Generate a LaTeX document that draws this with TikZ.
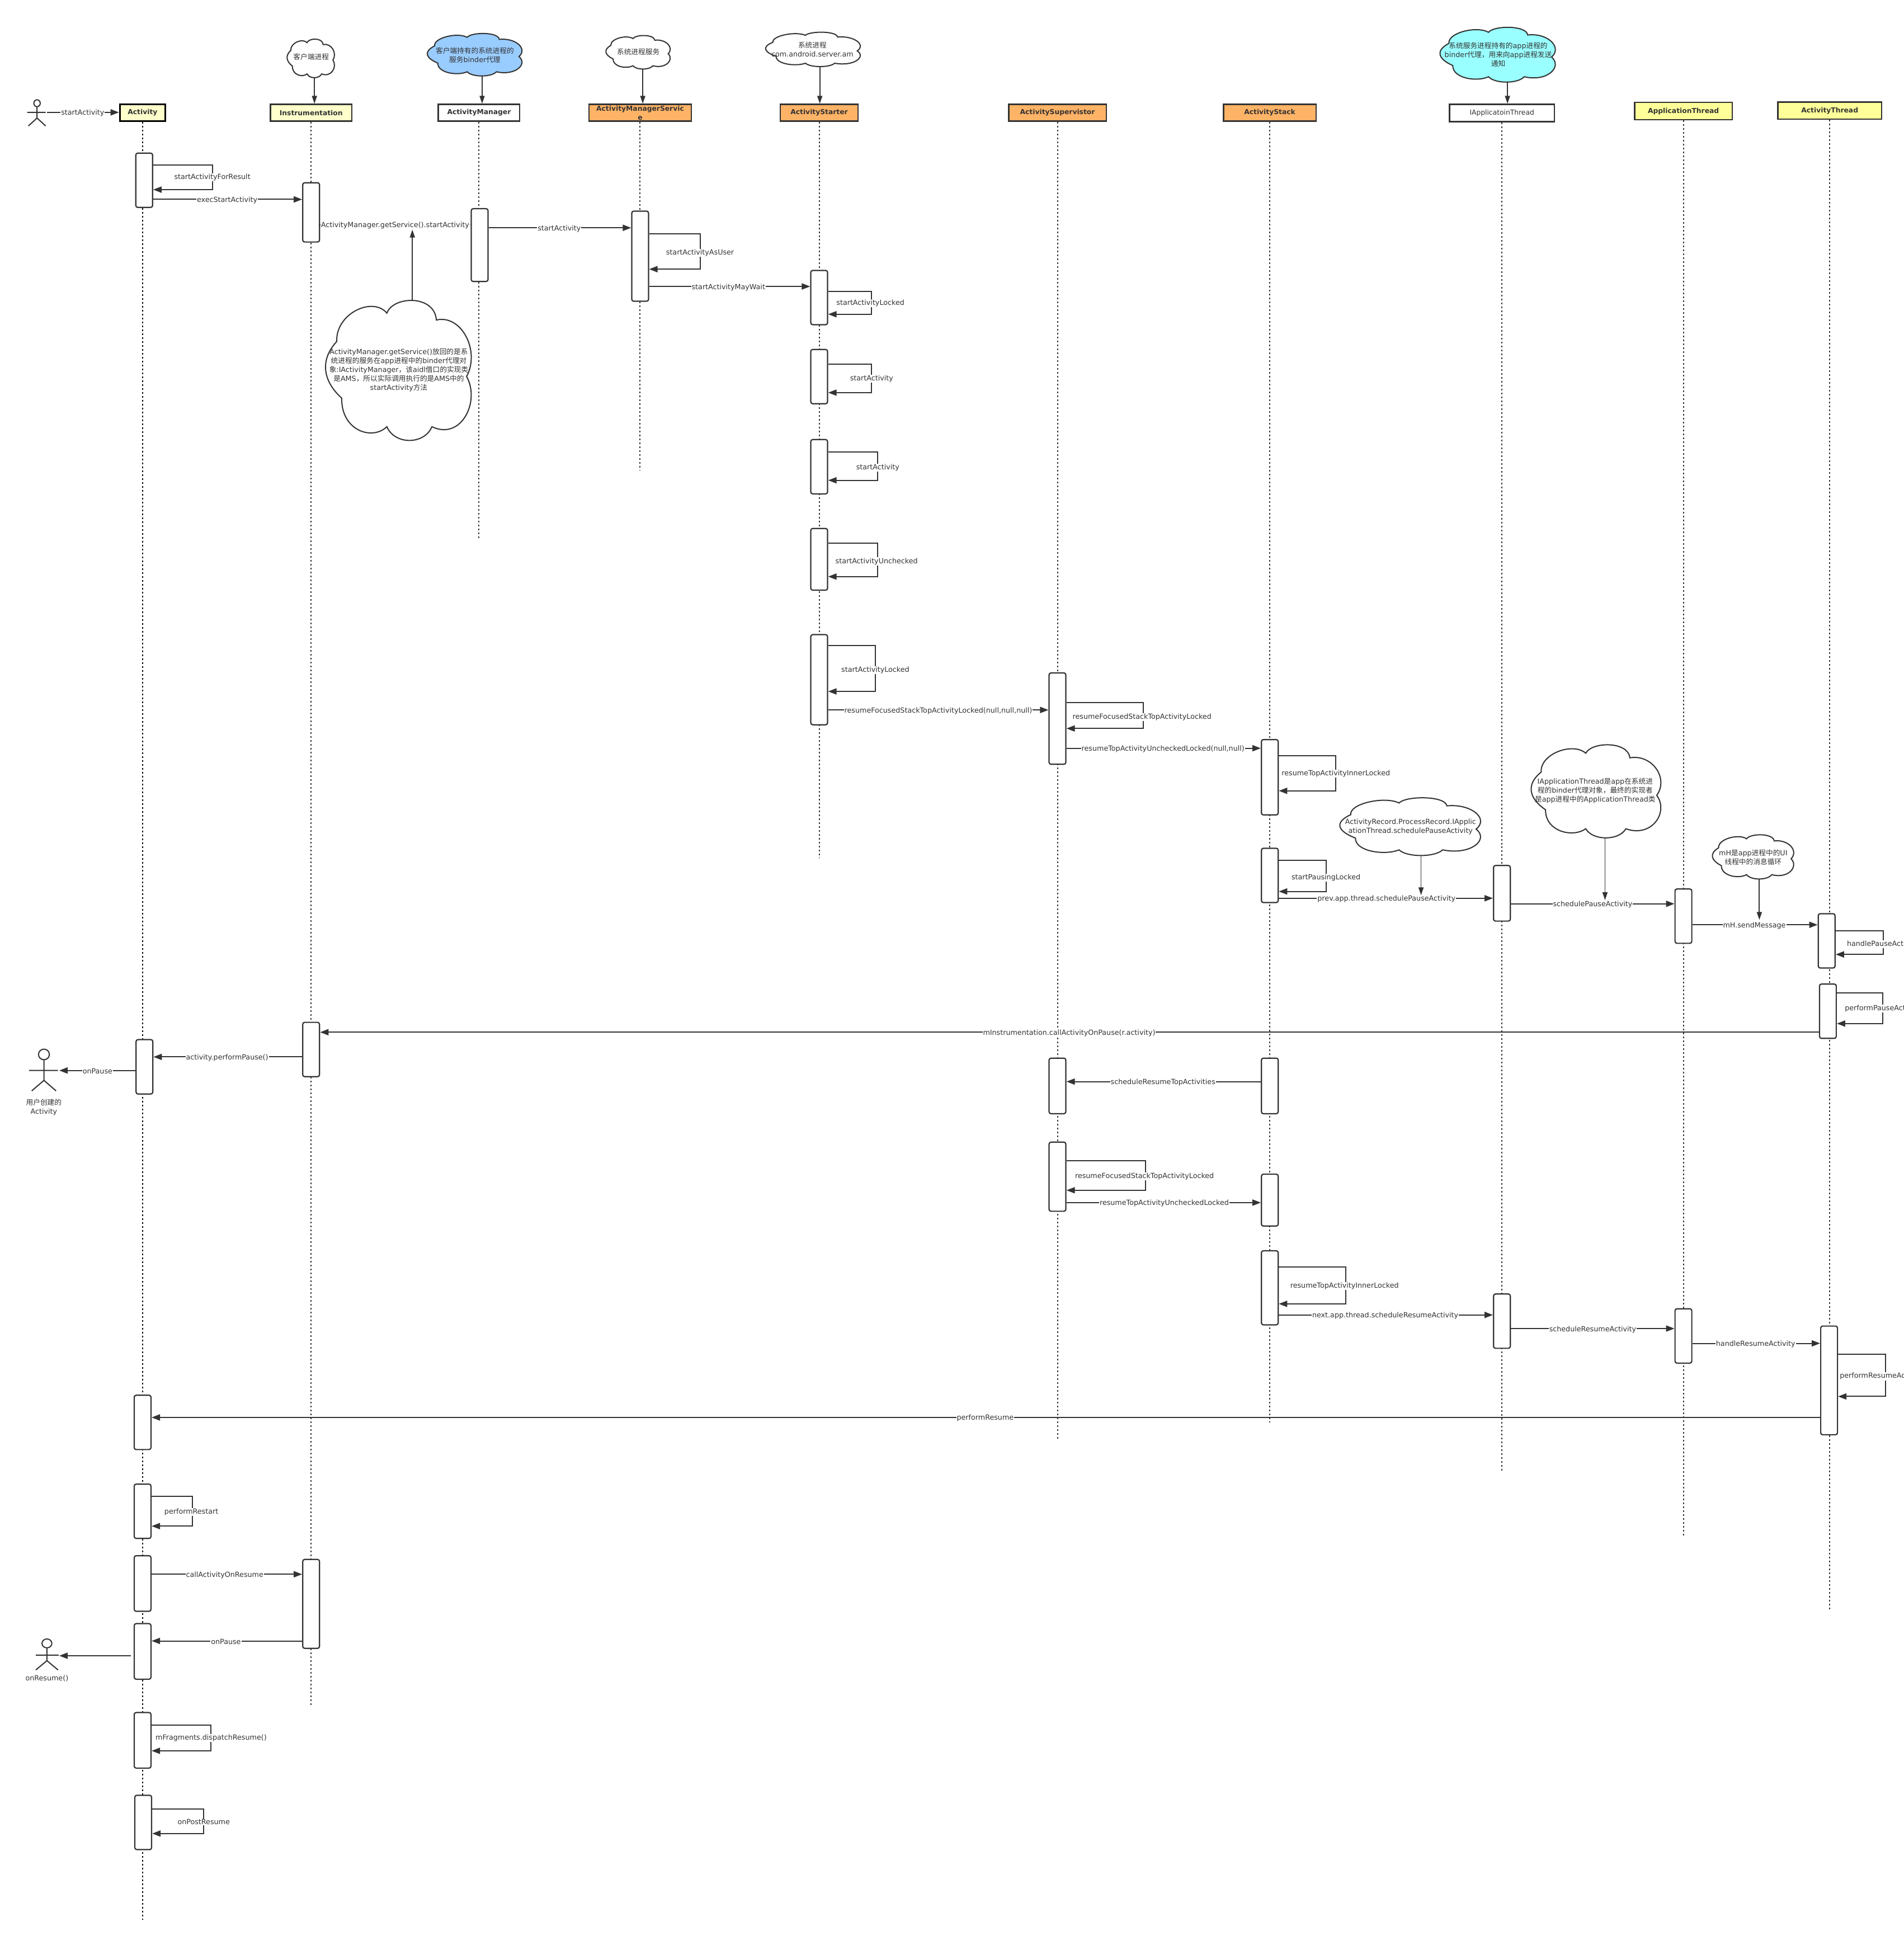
\documentclass[tikz,border=0pt]{standalone}
\usepackage{fontspec}
\setmainfont{DejaVu Sans}
\newfontfamily\cjkfam{Noto Sans CJK SC}
\newcommand{\zh}[1]{{\cjkfam #1}}
\usetikzlibrary{arrows.meta}
\definecolor{ink}{HTML}{333333}
\definecolor{lightyellow}{HTML}{FFFFCC}
\definecolor{midyellow}{HTML}{FFFF99}
\definecolor{orangebox}{HTML}{FFB366}
\definecolor{bluecloud}{HTML}{99CCFF}
\definecolor{cyancloud}{HTML}{99FFFF}
\newcommand{\txtfont}{\fontsize{12.7}{16}\selectfont}
\newcommand{\hdrfont}{\fontsize{12.3}{16}\selectfont}
\tikzset{
  headerbox/.style={draw=ink,line width=2.4pt,inner sep=0pt,text=ink,align=center,font=\hdrfont},
  lifeline/.style={draw=ink,line width=2pt,dash pattern=on 3pt off 4pt},
  actbar/.style={draw=ink,fill=white,line width=2.2pt,rounded corners=3.5pt,inner sep=0pt,minimum width=30pt},
  msgline/.style={draw=ink,line width=2pt,-{Triangle[length=15pt,width=11pt]}},
  notearrow/.style={draw=ink,line width=1.8pt,-{Triangle[length=14pt,width=9pt]}},
  msglabel/.style={fill=white,text=ink,inner sep=1pt,font=\txtfont,align=center,yshift=-1.5pt},
  cloudline/.style={draw=ink,line width=2pt},
  cloudtext/.style={text=ink,inner sep=0pt,font=\txtfont,align=center},
  plainlabel/.style={text=ink,inner sep=0pt,font=\txtfont,align=center},
  actorline/.style={draw=ink,line width=2pt},
}
\newcount\lblcount
\newcommand{\hdr}[8]{% name x0 y0 x1 y1 fill text extra
  \pgfmathsetlengthmacro\wdd{(#4-#2)*2.2075}
  \pgfmathsetlengthmacro\htt{(#5-#3)*2.2075}
  \node[headerbox,fill=#6,minimum width=\wdd,minimum height=\htt,#8] (#1) at ({(#2+#4)/2},{(#3+#5)/2}) {#7};
}
\newcommand{\life}[2]{\draw[lifeline] (#1.south) -- (#1.south |- 0,#2);}
\newcommand{\actbox}[4]{% name cx top bottom
  \pgfmathsetlengthmacro\htt{(#4-#3)*2.2075}
  \node[actbar,minimum height=\htt] (#1) at (#2,{(#3+#4)/2}) {};
}
\newcommand{\lbl}[3]{\global\advance\lblcount by 1
  \node[msglabel] (msg\the\lblcount) at (#1,#2) {#3};}
\newcommand{\msgr}[5]{% from to y labelx label
  \draw[msgline] (#1.east |- 0,#3) -- (#2.west |- 0,#3);
  \lbl{#4}{#3}{#5}}
\newcommand{\msgl}[5]{%
  \draw[msgline] (#1.west |- 0,#3) -- (#2.east |- 0,#3);
  \lbl{#4}{#3}{#5}}
\newcommand{\selfcall}[7]{% bar y1 xr y2 lx ly text
  \draw[msgline] (#1.east |- 0,#2) -- (#3,#2) -- (#3,#4) -- (#1.east |- 0,#4);
  \lbl{#5}{#6}{#7}}
\newcommand{\cloudat}[6]{% name x0 y0 x1 y1 fill
  \pgfmathsetlengthmacro\wdd{(#4-#2)*2.2075}
  \pgfmathsetlengthmacro\htt{(#5-#3)*2.2075}
  \begin{scope}[shift={(#2,#3)},x=\wdd,y=-\htt]
    \draw[cloudline,fill=#6] (.09,.294)
      .. controls (.08,.10) and (.33,-.03) .. (.428,.093)
      .. controls (.47,-.03) and (.75,-.04) .. (.762,.142)
      .. controls (.93,.10) and (1.06,.36) .. (.966,.543)
      .. controls (1.06,.72) and (.93,1.0) .. (.732,.90)
      .. controls (.68,1.03) and (.48,1.03) .. (.428,.90)
      .. controls (.33,1.0) and (.12,.93) .. (.123,.697)
      .. controls (.0,.58) and (-.03,.43) .. (.09,.294) -- cycle;
  \end{scope}
  \node[inner sep=0pt,minimum width=\wdd,minimum height=\htt] (#1) at ({(#2+#4)/2},{(#3+#5)/2}) {};
}
\begin{document}
\begin{tikzpicture}[x=2.2075pt,y=-2.2075pt]
\useasboundingbox (0,0) rectangle (1542,1568);
\clip (0,0) rectangle (1542,1568);
\fill[white] (0,0) rectangle (1542,1568);

% headers
\hdr{hActivity}{97}{84.5}{134}{98}{lightyellow}{\textbf{Activity}}{draw=black,line width=2.8pt}
\hdr{hInstr}{219}{84.5}{285}{98}{lightyellow}{\textbf{Instrumentation}}{}
\hdr{hAM}{355}{84.5}{421}{98}{white}{\textbf{ActivityManager}}{}
\hdr{hAMS}{477}{84.5}{560}{98}{orangebox}{\textbf{ActivityManagerServic}\\\textbf{e}}{}
\hdr{hStarter}{632}{84.5}{695}{98}{orangebox}{\textbf{ActivityStarter}}{}
\hdr{hSuper}{817}{84.5}{896}{98}{orangebox}{\textbf{ActivitySupervistor}}{}
\hdr{hStack}{991}{84.5}{1066}{98}{orangebox}{\textbf{ActivityStack}}{}
\hdr{hIAT}{1174}{84.5}{1259}{98.5}{white}{IApplicatoinThread}{}
\hdr{hAT}{1324}{83}{1403}{97}{midyellow}{\textbf{ApplicationThread}}{}
\hdr{hThr}{1440}{82.6}{1524}{96.6}{midyellow}{\textbf{ActivityThread}}{}

% lifelines
\draw[lifeline,draw=black] (hActivity.south) -- (hActivity.south |- 0,1555);
\life{hInstr}{1382}
\life{hAM}{436}
\life{hAMS}{381}
\life{hStarter}{695}
\life{hSuper}{1166}
\life{hStack}{1152}
\life{hIAT}{1191}
\life{hAT}{1245}
\life{hThr}{1305}

% activation bars
\actbox{aA}{116.8}{124}{168}
\actbox{iA}{252}{148}{196}
\actbox{mA}{388.5}{169}{228}
\actbox{sA}{518.5}{171}{244}
\actbox{bA}{663.5}{219}{263}
\actbox{bB}{663.5}{283}{327}
\actbox{bC}{663.5}{356}{400}
\actbox{bD}{663.5}{428}{478}
\actbox{bE}{663.5}{514}{587}
\actbox{vA}{856.5}{545}{619}
\actbox{kA}{1028.5}{599}{660}
\actbox{kB}{1028.5}{687}{731}
\actbox{tA}{1216.5}{701}{746}
\actbox{pA}{1363.5}{720}{764}
\actbox{hA}{1479.5}{740}{784}
\actbox{hB}{1480.5}{797}{841}
\actbox{iB}{252}{828}{872}
\actbox{aB}{117}{842}{886}
\actbox{kC}{1028.5}{857}{902}
\actbox{vB}{856.5}{857}{902}
\actbox{vC}{856.5}{925}{981}
\actbox{kD}{1028.5}{951}{993}
\actbox{kE}{1028.5}{1013}{1073}
\actbox{tB}{1216.5}{1048}{1092}
\actbox{pB}{1363.5}{1060}{1104}
\actbox{hC}{1481.5}{1074}{1162}
\actbox{aC}{115.5}{1130}{1174}
\actbox{aD}{115.5}{1202}{1246}
\actbox{aE}{115.5}{1260}{1305}
\actbox{iC}{252}{1263}{1335}
\actbox{aF}{115.5}{1315}{1360}
\actbox{aG}{115.5}{1387}{1432}
\actbox{aH}{116}{1454}{1498}

% actors
\coordinate (actorOne) at (38,91);
\draw[actorline] (30,83.6) ellipse (2.6 and 2.8);
\draw[actorline] (22,91) -- (37,91) (30,86.4) -- (30,95.6) (23,102) -- (30,95.6) -- (37,102);
\coordinate (actorTwo) at (48,867);
\draw[actorline] (35.6,854) ellipse (4.4 and 4.3);
\draw[actorline] (23.5,867) -- (47,867) (35.6,858.3) -- (35.6,875) (25.7,883.5) -- (35.6,875) -- (45.4,883.5);
\node[plainlabel] (lblTwo) at (35.5,897) {\zh{用户创建的}\\Activity};
\coordinate (actorThree) at (48,1341);
\coordinate (aFout) at (106,1341);
\draw[actorline] (38,1331) ellipse (4 and 3.6);
\draw[actorline] (29,1340.5) -- (47.5,1340.5) (38,1334.6) -- (38,1345) (29,1352.5) -- (38,1345) -- (47,1352.5);
\node[plainlabel] (lblThree) at (38,1359.5) {onResume()};

% messages
\draw[msgline] (actorOne) -- (hActivity.west |- actorOne);
\lbl{67}{91}{startActivity}
\selfcall{aA}{133.5}{172}{153.6}{172}{143}{startActivityForResult}
\msgr{aA}{iA}{161.5}{184}{execStartActivity}
\msgr{iA}{mA}{182}{320}{ActivityManager.getService().startActivity}
\msgr{mA}{sA}{184.5}{453}{startActivity}
\selfcall{sA}{189.5}{567}{218}{567}{204}{startActivityAsUser}
\msgr{sA}{bA}{232}{590}{startActivityMayWait}
\selfcall{bA}{236}{706}{254.5}{705}{245}{startActivityLocked}
\selfcall{bB}{295}{706}{318}{706}{306}{startActivity}
\selfcall{bC}{366}{711}{389}{711}{378}{startActivity}
\selfcall{bD}{440}{711}{467}{710}{454}{startActivityUnchecked}
\selfcall{bE}{523}{709}{560}{709}{542}{startActivityLocked}
\msgr{bE}{vA}{575}{760}{resumeFocusedStackTopActivityLocked(null,null,null)}
\selfcall{vA}{569}{926}{590}{925}{580}{resumeFocusedStackTopActivityLocked}
\msgr{vA}{kA}{606}{942}{resumeTopActivityUncheckedLocked(null,null)}
\selfcall{kA}{612}{1082}{640.5}{1082}{626}{resumeTopActivityInnerLocked}
\selfcall{kB}{696.7}{1074}{722}{1074}{710}{startPausingLocked}
\msgr{kB}{tA}{727.5}{1123}{prev.app.thread.schedulePauseActivity}
\msgr{tA}{pA}{732}{1290}{schedulePauseActivity}
\msgr{pA}{hA}{749}{1421}{mH.sendMessage}
\selfcall{hA}{754}{1525.5}{773}{1525}{764}{handlePauseActivity}
\selfcall{hB}{804}{1525}{829}{1525}{816}{performPauseActivity}
\msgl{hB}{iB}{836}{866}{mInstrumentation.callActivityOnPause(r.activity)}
\msgl{iB}{aB}{856}{184}{activity.performPause()}
\draw[msgline] (aB.west |- actorTwo) -- (actorTwo);
\lbl{79}{867}{onPause}
\msgl{kC}{vB}{876}{942}{scheduleResumeTopActivities}
\selfcall{vC}{940}{928}{964}{927}{952}{resumeFocusedStackTopActivityLocked}
\msgr{vC}{kD}{974}{943}{resumeTopActivityUncheckedLocked}
\selfcall{kE}{1026}{1090}{1056}{1089}{1041}{resumeTopActivityInnerLocked}
\msgr{kE}{tB}{1065}{1122}{next.app.thread.scheduleResumeActivity}
\msgr{tB}{pB}{1076}{1290}{scheduleResumeActivity}
\msgr{pB}{hC}{1088}{1422}{handleResumeActivity}
\selfcall{hC}{1097}{1527}{1131}{1524}{1114}{performResumeActivity}
\msgl{hC}{aC}{1148}{798}{performResume}
\selfcall{aD}{1212}{156}{1236}{155}{1224}{performRestart}
\msgr{aE}{iC}{1275}{182}{callActivityOnResume}
\msgl{iC}{aF}{1329}{183}{onPause}
\draw[msgline] (aFout) -- (actorThree);
\selfcall{aG}{1397}{171}{1418}{171}{1407}{mFragments.dispatchResume()}
\selfcall{aH}{1465}{165}{1485}{165}{1475}{onPostResume}

% clouds
\cloudat{cClient}{232}{31.6}{271}{63}{white}
\node[cloudtext] (tClient) at (252,46) {\zh{客户端进程}};
\draw[notearrow] (cClient.south -| 254.7,0) -- (hInstr.north -| 254.7,0);
\cloudat{cBlue}{345}{27}{423}{61.6}{bluecloud}
\node[cloudtext] (tBlue) at (384.6,44.5) {\zh{客户端持有的系统进程的}\\\zh{服务}binder\zh{代理}};
\draw[notearrow] (cBlue.south -| 390.5,0) -- (hAM.north -| 390.5,0);
\cloudat{cSys}{490}{28.7}{543}{56}{white}
\node[cloudtext] (tSys) at (517,42) {\zh{系统进程服务}};
\draw[notearrow] (cSys.south -| 520.6,0) -- (hAMS.north -| 520.6,0);
\cloudat{cAm}{619}{26}{697}{54}{white}
\node[cloudtext] (tAm) at (658,40) {\zh{系统进程}\\com.android.server.am};
\draw[notearrow] (cAm.south -| 664,0) -- (hStarter.north -| 664,0);
\cloudat{cCyan}{1165}{22}{1260}{66.6}{cyancloud}
\node[cloudtext] (tCyan) at (1213.5,44.3) {\zh{系统服务进程持有的}app\zh{进程的}\\binder\zh{代理，用来向}app\zh{进程发送}\\\zh{通知}};
\draw[notearrow] (cCyan.south -| 1221,0) -- (hIAT.north -| 1221,0);
\cloudat{cNote}{262}{243}{382}{357}{white}
\node[cloudtext] (tNote) at (323,299.5) {ActivityManager.getService()\zh{放回的是系}\\\zh{统进程的服务在}app\zh{进程中的}binder\zh{代理对}\\\zh{象}:IActivityManager\zh{，该}aidl\zh{借口的实现类}\\\zh{是}AMS\zh{，所以实际调用执行的是}AMS\zh{中的}\\startActivity\zh{方法}};
\coordinate (noteTarget) at (334,186);
\draw[notearrow] (cNote.north -| noteTarget) -- (noteTarget);
\cloudat{cRecord}{1083.6}{646}{1199.5}{693}{white}
\node[cloudtext] (tRecord) at (1142.5,669.5) {ActivityRecord.ProcessRecord.IApplic\\ationThread.schedulePauseActivity};
\coordinate (recordTarget) at (1151,725);
\draw[notearrow] (cRecord.south -| recordTarget) -- (recordTarget);
\cloudat{cIApp}{1238.7}{603}{1345.5}{678.8}{white}
\node[cloudtext] (tIApp) at (1292,640.5) {IApplicationThread\zh{是}app\zh{在系统进}\\\zh{程的}binder\zh{代理对象，最终的实现者}\\\zh{是}app\zh{进程中的}ApplicationThread\zh{类}};
\coordinate (iappTarget) at (1300,729);
\draw[notearrow] (cIApp.south -| iappTarget) -- (iappTarget);
\cloudat{cMh}{1386}{676}{1453}{712}{white}
\node[cloudtext] (tMh) at (1420,694.5) {mH\zh{是}app\zh{进程中的}UI\\\zh{线程中的消息循环}};
\coordinate (mhTarget) at (1425,745);
\draw[notearrow] (cMh.south -| mhTarget) -- (mhTarget);
\end{tikzpicture}
\end{document}
